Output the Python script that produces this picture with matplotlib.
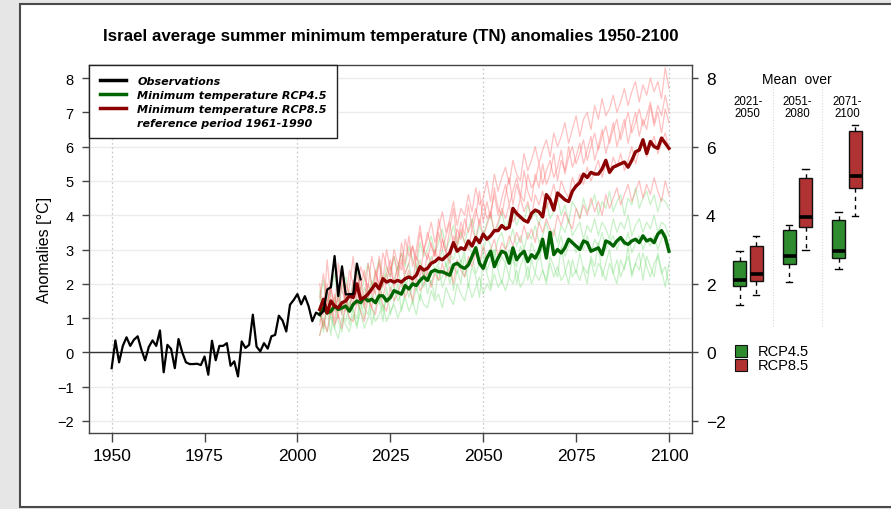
import matplotlib
matplotlib.use("Agg")
import matplotlib.pyplot as plt
from matplotlib.patches import Rectangle
from matplotlib.lines import Line2D
import numpy as np

plt.rcParams['font.family'] = ['Liberation Sans', 'DejaVu Sans']

# ---------------- data ----------------
obs_years = list(range(1950, 2018))
obs_values = [-0.46, 0.35, -0.29, 0.19, 0.44, 0.19, 0.37, 0.47, 0.08, -0.23,
              0.16, 0.35, 0.19, 0.64, -0.58, 0.22, 0.10, -0.46, 0.39, 0.00,
              -0.29, -0.34, -0.34, -0.33, -0.37, -0.12, -0.65, 0.34, -0.23, 0.19,
              0.19, 0.27, -0.39, -0.26, -0.70, 0.32, 0.13, 0.22, 1.10, 0.17,
              0.03, 0.27, 0.11, 0.47, 0.51, 1.07, 0.93, 0.61, 1.39, 1.53,
              1.70, 1.40, 1.64, 1.35, 0.91, 1.16, 1.10, 1.20, 1.83, 1.90,
              2.81, 1.64, 2.51, 1.69, 1.70, 1.70, 2.59, 2.13]

proj_years = list(range(2006, 2101))

rcp85_mean = [1.25, 1.55, 1.15, 1.50, 1.35, 1.30, 1.45, 1.50, 1.65, 1.60,
              2.00, 1.55, 1.60, 1.70, 1.85, 2.00, 1.85, 2.15, 2.05, 2.10,
              2.05, 2.10, 2.05, 2.15, 2.20, 2.15, 2.25, 2.50, 2.40, 2.45,
              2.60, 2.65, 2.75, 2.70, 2.80, 2.90, 3.20, 2.95, 3.05, 3.00,
              3.25, 3.10, 3.35, 3.20, 3.45, 3.30, 3.40, 3.55, 3.55, 3.70,
              3.60, 3.65, 4.20, 4.05, 3.95, 3.85, 3.80, 4.05, 4.15, 4.10,
              3.95, 4.60, 4.45, 4.15, 4.65, 4.55, 4.45, 4.40, 4.70, 4.85,
              4.95, 5.20, 5.10, 5.25, 5.20, 5.20, 5.35, 5.60, 5.25, 5.40,
              5.45, 5.50, 5.55, 5.40, 5.60, 5.85, 5.90, 6.20, 5.80, 6.15,
              6.00, 5.95, 6.25, 6.10, 5.95]

rcp45_mean = [1.10, 1.30, 1.15, 1.20, 1.35, 1.25, 1.30, 1.35, 1.20, 1.40,
              1.50, 1.45, 1.60, 1.50, 1.55, 1.45, 1.65, 1.65, 1.50, 1.60,
              1.80, 1.75, 1.70, 1.95, 1.85, 2.00, 1.95, 2.10, 2.20, 2.10,
              2.35, 2.40, 2.35, 2.35, 2.30, 2.25, 2.55, 2.60, 2.50, 2.45,
              2.55, 2.80, 3.05, 2.60, 2.45, 2.75, 2.95, 2.50, 2.75, 2.95,
              2.90, 2.60, 3.05, 2.70, 2.85, 2.95, 2.65, 2.85, 2.75, 2.95,
              3.30, 2.75, 3.50, 2.85, 3.00, 2.90, 3.05, 3.30, 3.20, 3.10,
              3.00, 3.25, 3.20, 2.95, 3.00, 3.05, 2.85, 3.25, 3.20, 3.10,
              3.25, 3.35, 3.20, 3.15, 3.25, 3.30, 3.20, 3.40, 3.25, 3.30,
              3.20, 3.45, 3.55, 3.35, 2.95]

rcp85_member1 = [1.6, 2.3, 1.4, 1.9, 1.2, 2.6, 1.8, 1.5, 2.4, 2.0,
                 1.7, 2.5, 2.2, 1.9, 2.8, 2.3, 2.0, 2.9, 2.5, 2.2,
                 3.0, 2.6, 2.4, 3.3, 2.8, 3.1, 2.7, 3.5, 3.0, 3.3,
                 3.8, 3.2, 3.6, 4.1, 3.5, 3.9, 4.4, 3.7, 4.2, 4.0,
                 4.6, 4.1, 4.8, 4.3, 4.5, 5.0, 4.4, 5.2, 4.7, 5.1,
                 5.4, 4.9, 5.6, 5.2, 5.0, 5.8, 5.3, 5.6, 6.0, 5.5,
                 5.9, 6.2, 5.7, 6.4, 6.0, 6.3, 6.7, 6.1, 6.5, 6.9,
                 6.3, 6.8, 7.0, 6.5, 7.2, 6.8, 7.4, 6.9, 7.1, 7.5,
                 7.0, 7.3, 7.7, 7.2, 7.6, 7.9, 7.3, 7.8, 7.5, 8.0,
                 7.6, 7.9, 7.4, 8.3, 7.7]
rcp85_member2 = [0.8, 1.3, 2.0, 1.1, 1.7, 1.0, 2.2, 1.6, 1.2, 2.1,
                 1.4, 1.9, 2.4, 1.6, 1.3, 2.2, 2.6, 1.9, 2.3, 2.7,
                 2.0, 2.5, 2.9, 2.3, 2.6, 3.1, 2.5, 2.2, 3.0, 2.7,
                 3.2, 2.8, 3.5, 3.0, 3.4, 3.8, 3.1, 3.6, 3.3, 3.9,
                 3.5, 3.8, 4.2, 3.7, 4.4, 3.9, 4.1, 4.6, 4.0, 4.5,
                 4.9, 4.3, 4.7, 5.1, 4.6, 4.4, 5.2, 4.8, 5.0, 5.5,
                 4.9, 5.3, 5.6, 5.1, 5.4, 5.9, 5.2, 5.7, 6.0, 5.5,
                 5.8, 6.2, 5.6, 6.0, 6.4, 5.9, 6.3, 6.6, 6.1, 6.5,
                 6.8, 6.2, 6.6, 7.0, 6.4, 6.7, 7.1, 6.6, 6.9, 7.3,
                 6.7, 7.2, 6.9, 7.5, 7.0]
rcp85_member3 = [1.2, 0.7, 1.5, 1.9, 1.3, 1.6, 1.1, 2.0, 1.7, 1.4,
                 2.3, 1.8, 1.3, 2.0, 1.7, 2.4, 1.9, 1.6, 2.1, 2.5,
                 1.9, 2.2, 2.7, 2.1, 2.4, 2.0, 2.8, 2.5, 2.2, 2.9,
                 2.6, 3.0, 2.7, 3.3, 2.9, 2.6, 3.4, 3.1, 3.6, 3.2,
                 3.0, 3.6, 3.3, 3.9, 3.4, 3.7, 4.1, 3.5, 3.8, 4.2,
                 3.9, 4.3, 3.8, 4.0, 4.5, 4.1, 4.4, 3.9, 4.6, 4.3,
                 4.7, 4.2, 4.5, 4.9, 4.4, 5.0, 4.7, 4.5, 5.1, 4.8,
                 5.2, 4.9, 5.4, 5.0, 5.3, 5.6, 5.1, 5.5, 5.2, 5.7,
                 5.4, 5.8, 5.3, 5.6, 6.0, 5.5, 5.9, 6.2, 5.7, 6.0,
                 6.3, 5.8, 6.1, 6.4, 5.9]
rcp85_member4 = [0.5, 1.0, 0.6, 1.3, 0.8, 1.1, 0.7, 1.4, 1.0, 0.9,
                 1.5, 1.2, 0.9, 1.6, 1.3, 1.1, 1.8, 1.4, 1.2, 1.9,
                 1.5, 1.7, 2.1, 1.6, 1.9, 1.5, 2.2, 1.8, 2.0, 2.4,
                 1.9, 2.3, 2.1, 2.6, 2.2, 2.5, 2.0, 2.7, 2.4, 2.2,
                 2.8, 2.5, 2.9, 2.6, 3.1, 2.7, 3.0, 3.3, 2.8, 3.2,
                 3.0, 3.4, 3.1, 3.5, 3.2, 3.7, 3.3, 3.6, 3.2, 3.8,
                 3.5, 3.9, 3.6, 3.4, 4.0, 3.7, 4.1, 3.8, 3.6, 4.2,
                 3.9, 4.3, 4.0, 4.5, 4.1, 4.4, 4.0, 4.6, 4.2, 4.5,
                 4.8, 4.3, 4.6, 4.9, 4.4, 4.7, 5.0, 4.5, 4.9, 4.6,
                 5.1, 4.7, 4.4, 5.0, 4.6]
rcp85_member5 = [2.0, 1.1, 2.7, 1.5, 0.9, 1.8, 2.5, 1.2, 1.9, 2.8,
                 1.6, 2.2, 1.4, 2.6, 2.0, 1.7, 2.8, 2.1, 3.0, 2.4,
                 2.8, 2.2, 3.2, 2.6, 3.4, 2.5, 3.0, 3.7, 2.9, 3.5,
                 3.1, 2.8, 3.9, 3.3, 2.9, 3.6, 4.2, 3.2, 3.8, 3.4,
                 4.3, 3.6, 4.0, 4.7, 3.8, 4.4, 3.9, 4.8, 4.2, 4.0,
                 4.6, 5.1, 4.3, 4.9, 4.5, 5.3, 4.7, 4.4, 5.2, 4.8,
                 5.5, 4.9, 5.2, 5.8, 5.0, 5.6, 5.3, 6.0, 5.4, 5.7,
                 6.1, 5.5, 5.9, 6.3, 5.6, 6.0, 6.5, 5.8, 6.2, 6.7,
                 6.0, 6.4, 6.8, 6.1, 6.6, 7.0, 6.3, 6.8, 6.5, 7.2,
                 6.6, 7.0, 6.4, 7.1, 6.7]

rcp45_member1 = [1.5, 2.1, 1.2, 1.8, 2.3, 1.4, 1.9, 2.2, 1.6, 2.0,
                 2.4, 1.8, 2.1, 2.6, 1.9, 2.3, 2.7, 2.0, 2.5, 2.2,
                 2.8, 2.4, 2.9, 2.5, 3.1, 2.7, 2.4, 3.2, 2.8, 3.0,
                 3.4, 2.9, 3.2, 3.6, 3.0, 3.3, 3.7, 3.1, 3.5, 3.2,
                 3.6, 3.9, 3.3, 3.7, 3.4, 3.8, 4.0, 3.5, 3.7, 4.1,
                 3.6, 3.9, 4.2, 3.7, 4.0, 3.8, 4.3, 3.9, 4.1, 3.7,
                 4.2, 4.4, 3.9, 4.1, 4.5, 4.0, 4.3, 3.8, 4.4, 4.2,
                 3.9, 4.5, 4.1, 4.3, 4.6, 4.0, 4.4, 4.2, 4.7, 4.1,
                 4.4, 4.6, 4.0, 4.5, 4.3, 4.8, 4.2, 4.5, 4.7, 4.3,
                 4.6, 4.1, 4.5, 4.4, 4.2]
rcp45_member2 = [0.9, 1.4, 1.7, 1.1, 1.5, 1.9, 1.2, 1.6, 1.3, 1.8,
                 1.5, 1.2, 1.9, 1.6, 2.1, 1.7, 1.4, 2.0, 2.3, 1.8,
                 2.1, 2.5, 1.9, 2.3, 2.6, 2.0, 2.4, 2.7, 2.2, 2.5,
                 2.8, 2.4, 2.6, 3.0, 2.5, 2.9, 2.7, 3.1, 2.6, 3.0,
                 3.2, 2.8, 3.0, 3.3, 2.9, 3.4, 3.1, 2.8, 3.3, 3.5,
                 3.0, 3.2, 3.6, 3.1, 3.4, 3.0, 3.5, 3.3, 3.7, 3.2,
                 3.4, 3.8, 3.3, 3.6, 3.2, 3.7, 3.5, 3.9, 3.4, 3.6,
                 3.8, 3.3, 3.7, 3.5, 3.9, 3.4, 3.8, 3.6, 3.3, 3.9,
                 3.5, 3.8, 3.6, 4.0, 3.4, 3.7, 3.9, 3.5, 3.8, 3.6,
                 4.0, 3.5, 3.8, 3.7, 3.4]
rcp45_member3 = [1.2, 0.8, 1.3, 1.0, 0.7, 1.4, 1.1, 0.9, 1.5, 1.2,
                 1.0, 1.6, 1.3, 1.1, 1.7, 1.4, 1.8, 1.2, 1.6, 1.5,
                 1.9, 1.5, 1.7, 2.1, 1.6, 2.0, 1.8, 2.2, 1.9, 2.3,
                 2.0, 2.4, 2.1, 2.2, 2.6, 2.0, 2.5, 2.3, 2.7, 2.2,
                 2.5, 2.8, 2.3, 2.6, 2.9, 2.4, 2.7, 3.0, 2.5, 2.8,
                 2.6, 3.0, 2.7, 2.5, 3.1, 2.8, 2.6, 3.2, 2.9, 2.7,
                 3.1, 2.8, 3.3, 2.9, 3.0, 3.4, 2.8, 3.1, 3.3, 2.9,
                 3.2, 3.0, 3.4, 2.9, 3.3, 3.1, 3.5, 3.0, 3.2, 3.4,
                 3.0, 3.3, 3.1, 3.5, 2.9, 3.2, 3.4, 3.0, 3.3, 3.1,
                 3.4, 3.0, 3.3, 3.5, 3.1]
rcp45_member4 = [0.5, 0.9, 0.6, 1.1, 0.7, 0.4, 1.0, 0.8, 0.6, 1.1,
                 0.8, 1.2, 0.7, 1.0, 1.3, 0.9, 1.1, 1.4, 0.9, 1.2,
                 1.4, 1.0, 1.3, 1.6, 1.2, 1.5, 1.1, 1.7, 1.4, 1.3,
                 1.8, 1.5, 1.7, 1.3, 1.9, 1.6, 1.4, 2.0, 1.7, 1.5,
                 2.0, 1.6, 1.9, 2.2, 1.7, 2.0, 1.8, 2.3, 1.9, 2.1,
                 1.8, 2.2, 2.0, 2.4, 1.9, 2.1, 2.5, 2.0, 2.3, 2.1,
                 2.4, 2.0, 2.6, 2.2, 2.5, 2.1, 2.3, 2.7, 2.2, 2.4,
                 2.1, 2.5, 2.3, 2.7, 2.2, 2.6, 2.4, 2.1, 2.6, 2.3,
                 2.7, 2.2, 2.5, 2.8, 2.3, 2.6, 2.4, 2.9, 2.5, 2.2,
                 2.6, 2.8, 2.3, 2.5, 2.0]
rcp45_member5 = [1.8, 0.6, 1.3, 0.5, 1.6, 0.9, 0.6, 1.7, 0.8, 1.3,
                 0.7, 1.5, 1.0, 1.9, 0.8, 1.3, 1.6, 0.9, 1.9, 1.1,
                 1.5, 2.0, 1.2, 1.8, 2.3, 1.4, 1.9, 1.5, 2.4, 1.7,
                 2.1, 1.6, 2.5, 1.9, 2.2, 2.8, 1.8, 2.4, 2.0, 2.9,
                 1.9, 2.5, 2.2, 1.6, 2.7, 2.3, 1.9, 2.8, 2.4, 2.0,
                 2.6, 2.2, 2.9, 2.0, 2.5, 2.8, 2.1, 2.7, 2.3, 3.0,
                 2.4, 2.1, 2.8, 2.5, 2.2, 3.1, 2.4, 2.0, 2.7, 2.3,
                 2.9, 2.4, 2.0, 2.8, 2.5, 3.2, 2.2, 2.6, 3.0, 2.3,
                 2.0, 2.7, 2.4, 3.1, 2.2, 2.6, 2.9, 2.1, 2.8, 2.5,
                 2.2, 2.9, 2.4, 1.9, 2.6]

rcp85_members = [rcp85_member1, rcp85_member2, rcp85_member3, rcp85_member4, rcp85_member5]
rcp45_members = [rcp45_member1, rcp45_member2, rcp45_member3, rcp45_member4, rcp45_member5]

periods = ["2021-\n2050", "2051-\n2080", "2071-\n2100"]
# boxplot stats per period: [whisker low, q1, median, q3, whisker high]
box_rcp45 = [[1.38, 1.94, 2.11, 2.67, 2.96],
             [2.05, 2.58, 2.81, 3.57, 3.71],
             [2.43, 2.75, 2.96, 3.86, 4.09]]
box_rcp85 = [[1.67, 2.08, 2.29, 3.10, 3.39],
             [2.99, 3.66, 3.95, 5.08, 5.35],
             [3.98, 4.79, 5.14, 6.45, 6.63]]

title = "Israel average summer minimum temperature (TN) anomalies 1950-2100"
legend_labels = ["Observations", "Minimum temperature RCP4.5",
                 "Minimum temperature RCP8.5", "reference period 1961-1990"]
x_ticks = [1950, 1975, 2000, 2025, 2050, 2075, 2100]
y_ticks_left = [-2, -1, 0, 1, 2, 3, 4, 5, 6, 7, 8]
y_ticks_right = [-2, 0, 2, 4, 6, 8]

# ---------------- figure ----------------
W, H = 891, 510
fig = plt.figure(figsize=(W / 100, H / 100), dpi=100)
fig.patch.set_facecolor('#e6e6e6')
fig.patches.append(Rectangle((20 / W, 1 - 508 / H), 1.2, (508 - 5) / H,
                             transform=fig.transFigure, facecolor='white',
                             edgecolor='#4a4a4a', linewidth=1.5, zorder=-5))

def fx(px):
    return px / W

def fy(py):
    return 1 - py / H

ax_l, ax_r, ax_t, ax_b = 89, 692, 66, 434
ax = fig.add_axes([fx(ax_l), fy(ax_b), fx(ax_r - ax_l), (ax_b - ax_t) / H])
ax.set_facecolor('white')
ylim = (-2.35, 8.38)
ax.set_xlim(1943.9, 2106.2)
ax.set_ylim(*ylim)

for v in y_ticks_left:
    ax.axhline(v, color='#ececec', lw=1.0, zorder=0.5)
for v in [1950, 2000, 2050, 2100]:
    ax.axvline(v, color='#cccccc', lw=0.9, ls=(0, (1.5, 2)), zorder=0.6)
ax.axhline(0, color='#333333', lw=1.0, zorder=1)

for m in rcp45_members:
    ax.plot(proj_years, m, color='#6fdc6f', alpha=0.38, lw=0.9, zorder=2)
for m in rcp85_members:
    ax.plot(proj_years, m, color='#ff5c5c', alpha=0.38, lw=0.9, zorder=2.1)

ax.plot(proj_years, rcp45_mean, color='#006400', lw=2.4, zorder=3)
ax.plot(proj_years, rcp85_mean, color='#8b0000', lw=2.4, zorder=3.1)
ax.plot(obs_years, obs_values, color='black', lw=1.6, zorder=4)

for s in ax.spines.values():
    s.set_color('#444444')
    s.set_linewidth(1.0)
ax.set_xticks(x_ticks)
ax.set_yticks(y_ticks_left)
ax.tick_params(axis='x', labelsize=12.5, length=6.5, width=1.0, color='#444444', pad=4)
ax.tick_params(axis='y', labelsize=10.5, length=5, width=1.0, color='#444444', pad=6)
ax.set_ylabel("Anomalies [°C]", fontsize=11.5)
ax.yaxis.set_label_coords((52 - ax_l) / (ax_r - ax_l), 0.5)

axr = ax.twinx()
axr.set_ylim(*ylim)
axr.set_yticks(y_ticks_right)
axr.tick_params(axis='y', labelsize=12.5, length=4, width=1.0, color='#444444', pad=6)
for s in axr.spines.values():
    s.set_visible(False)

handles = [Line2D([], [], color='black', lw=2.5),
           Line2D([], [], color='#006400', lw=2.5),
           Line2D([], [], color='#8b0000', lw=2.5),
           Line2D([], [], color='none')]
leg = ax.legend(handles, legend_labels, loc='upper left', bbox_to_anchor=(0.0, 1.0),
                borderaxespad=0, frameon=True, fancybox=False, framealpha=1,
                edgecolor='#222222',
                prop={'family': 'DejaVu Sans', 'weight': 'bold', 'style': 'oblique', 'size': 8.0},
                handlelength=2.4, handletextpad=1.0, labelspacing=0.37,
                borderpad=0.95)
leg.get_frame().set_linewidth(1.0)
leg.set_zorder(10)

fig.text(fx((ax_l + ax_r) / 2), fy(36), title, ha='center', va='center',
         fontsize=12.2, fontweight='bold')

# ---------------- boxplot panel ----------------
bx_l, bx_r = 700, 870
axb = fig.add_axes([fx(bx_l), fy(ax_b), fx(bx_r - bx_l), (ax_b - ax_t) / H])
axb.set_xlim(-1.4, -1.4 + (bx_r - bx_l) / 16.5)
axb.set_ylim(*ylim)
axb.axis('off')

green_box = '#2e8b2e'
red_box = '#b03232'
for i in range(3):
    g = box_rcp45[i]
    r = box_rcp85[i]
    stats = [dict(whislo=g[0], q1=g[1], med=g[2], q3=g[3], whishi=g[4], fliers=[]),
             dict(whislo=r[0], q1=r[1], med=r[2], q3=r[3], whishi=r[4], fliers=[])]
    pos = [1 + 3 * i, 2 + 3 * i]
    bp = axb.bxp(stats, positions=pos, widths=0.8, patch_artist=True,
                 showfliers=False,
                 boxprops=dict(edgecolor='#111111', linewidth=1.0),
                 medianprops=dict(color='black', linewidth=2.6),
                 whiskerprops=dict(color='black', linewidth=1.0, ls=(0, (3, 3))),
                 capprops=dict(color='black', linewidth=1.0),
                 capwidths=0.4)
    bp['boxes'][0].set_facecolor(green_box)
    bp['boxes'][1].set_facecolor(red_box)
    axb.text(1.5 + 3 * i, 7.15, periods[i], ha='center', va='center',
             fontsize=8.3, linespacing=1.05)

for xs in [3, 6]:
    axb.plot([xs, xs], [0.77, 7.77], color='#d9d9d9', lw=0.8, ls=(0, (1, 1.5)),
             zorder=0)

axb.text(4.5, 7.97, "Mean  over", ha='center', va='center', fontsize=10)

leg_x = -1.4 + (741 - bx_l) / 16.5
txt_x = -1.4 + (758 - bx_l) / 16.5
for yv, col, lab in [(0.04, green_box, "RCP4.5"), (-0.36, red_box, "RCP8.5")]:
    axb.plot([leg_x], [yv], marker='s', markersize=8.5, markerfacecolor=col,
             markeredgecolor='#111111', markeredgewidth=0.8, ls='none', clip_on=False)
    axb.text(txt_x, yv, lab, ha='left', va='center', fontsize=10.5)

fig.savefig("out.png", dpi=100, facecolor=fig.get_facecolor())
